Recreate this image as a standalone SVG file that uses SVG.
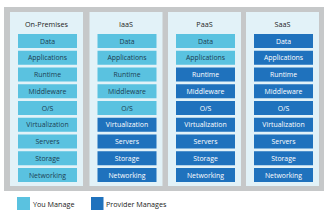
<svg xmlns="http://www.w3.org/2000/svg" width="330" height="214" viewBox="0 0 330 214">
<style>
.bg{fill:#ffffff}
.outer{fill:#c6c8c9}
.col{fill:#e2f2f8}
.you{fill:#5ac2e0}
.prov{fill:#1f72bd}
text{font-family:"Open Sans","Liberation Sans",sans-serif;font-size:6.9px;text-anchor:middle}
.hd{fill:#222;font-size:7.2px}
.ty{fill:#1c3d52}
.tp{fill:#ffffff}
.lg{fill:#222;text-anchor:start;font-size:7.2px}
</style>
<rect class="bg" x="0" y="0" width="330" height="214"/>
<rect class="outer" x="4" y="7" width="320" height="184"/>
<g id="col-onprem">
<rect class="col" x="10" y="12" width="73" height="174"/>
<text class="hd" x="46.5" y="27">On-Premises</text>
<rect class="you" x="18" y="34" width="59" height="14"/><text class="ty" x="47.5" y="43.5">Data</text>
<rect class="you" x="18" y="50.75" width="59" height="14"/><text class="ty" x="47.5" y="60.25">Applications</text>
<rect class="you" x="18" y="67.5" width="59" height="14"/><text class="ty" x="47.5" y="77">Runtime</text>
<rect class="you" x="18" y="84.25" width="59" height="14"/><text class="ty" x="47.5" y="93.75">Middleware</text>
<rect class="you" x="18" y="101" width="59" height="14"/><text class="ty" x="47.5" y="110.5">O/S</text>
<rect class="you" x="18" y="117.75" width="59" height="14"/><text class="ty" x="47.5" y="127.25">Virtualization</text>
<rect class="you" x="18" y="134.5" width="59" height="14"/><text class="ty" x="47.5" y="144">Servers</text>
<rect class="you" x="18" y="151.25" width="59" height="14"/><text class="ty" x="47.5" y="160.75">Storage</text>
<rect class="you" x="18" y="168" width="59" height="14"/><text class="ty" x="47.5" y="177.5">Networking</text>
</g>
<g id="col-iaas">
<rect class="col" x="89.5" y="12" width="73" height="174"/>
<text class="hd" x="126" y="27">IaaS</text>
<rect class="you" x="97.5" y="34" width="59" height="14"/><text class="ty" x="127" y="43.5">Data</text>
<rect class="you" x="97.5" y="50.75" width="59" height="14"/><text class="ty" x="127" y="60.25">Applications</text>
<rect class="you" x="97.5" y="67.5" width="59" height="14"/><text class="ty" x="127" y="77">Runtime</text>
<rect class="you" x="97.5" y="84.25" width="59" height="14"/><text class="ty" x="127" y="93.75">Middleware</text>
<rect class="you" x="97.5" y="101" width="59" height="14"/><text class="ty" x="127" y="110.5">O/S</text>
<rect class="prov" x="97.5" y="117.75" width="59" height="14"/><text class="tp" x="127" y="127.25">Virtualization</text>
<rect class="prov" x="97.5" y="134.5" width="59" height="14"/><text class="tp" x="127" y="144">Servers</text>
<rect class="prov" x="97.5" y="151.25" width="59" height="14"/><text class="tp" x="127" y="160.75">Storage</text>
<rect class="prov" x="97.5" y="168" width="59" height="14"/><text class="tp" x="127" y="177.5">Networking</text>
</g>
<g id="col-paas">
<rect class="col" x="168" y="12" width="73" height="174"/>
<text class="hd" x="204.5" y="27">PaaS</text>
<rect class="you" x="176" y="34" width="59" height="14"/><text class="ty" x="205.5" y="43.5">Data</text>
<rect class="you" x="176" y="50.75" width="59" height="14"/><text class="ty" x="205.5" y="60.25">Applications</text>
<rect class="prov" x="176" y="67.5" width="59" height="14"/><text class="tp" x="205.5" y="77">Runtime</text>
<rect class="prov" x="176" y="84.25" width="59" height="14"/><text class="tp" x="205.5" y="93.75">Middleware</text>
<rect class="prov" x="176" y="101" width="59" height="14"/><text class="tp" x="205.5" y="110.5">O/S</text>
<rect class="prov" x="176" y="117.75" width="59" height="14"/><text class="tp" x="205.5" y="127.25">Virtualization</text>
<rect class="prov" x="176" y="134.5" width="59" height="14"/><text class="tp" x="205.5" y="144">Servers</text>
<rect class="prov" x="176" y="151.25" width="59" height="14"/><text class="tp" x="205.5" y="160.75">Storage</text>
<rect class="prov" x="176" y="168" width="59" height="14"/><text class="tp" x="205.5" y="177.5">Networking</text>
</g>
<g id="col-saas">
<rect class="col" x="246" y="12" width="73" height="174"/>
<text class="hd" x="282.5" y="27">SaaS</text>
<rect class="prov" x="254" y="34" width="59" height="14"/><text class="tp" x="283.5" y="43.5">Data</text>
<rect class="prov" x="254" y="50.75" width="59" height="14"/><text class="tp" x="283.5" y="60.25">Applications</text>
<rect class="prov" x="254" y="67.5" width="59" height="14"/><text class="tp" x="283.5" y="77">Runtime</text>
<rect class="prov" x="254" y="84.25" width="59" height="14"/><text class="tp" x="283.5" y="93.75">Middleware</text>
<rect class="prov" x="254" y="101" width="59" height="14"/><text class="tp" x="283.5" y="110.5">O/S</text>
<rect class="prov" x="254" y="117.75" width="59" height="14"/><text class="tp" x="283.5" y="127.25">Virtualization</text>
<rect class="prov" x="254" y="134.5" width="59" height="14"/><text class="tp" x="283.5" y="144">Servers</text>
<rect class="prov" x="254" y="151.25" width="59" height="14"/><text class="tp" x="283.5" y="160.75">Storage</text>
<rect class="prov" x="254" y="168" width="59" height="14"/><text class="tp" x="283.5" y="177.5">Networking</text>
</g>
<g id="legend-you">
<rect class="you" x="17" y="197" width="13" height="13"/>
<text class="lg" x="33" y="206.5">You Manage</text>
</g>
<g id="legend-provider">
<rect class="prov" x="91" y="197" width="12.5" height="13"/>
<text class="lg" x="106" y="206.5">Provider Manages</text>
</g>
<g id="connectors"/>
</svg>
